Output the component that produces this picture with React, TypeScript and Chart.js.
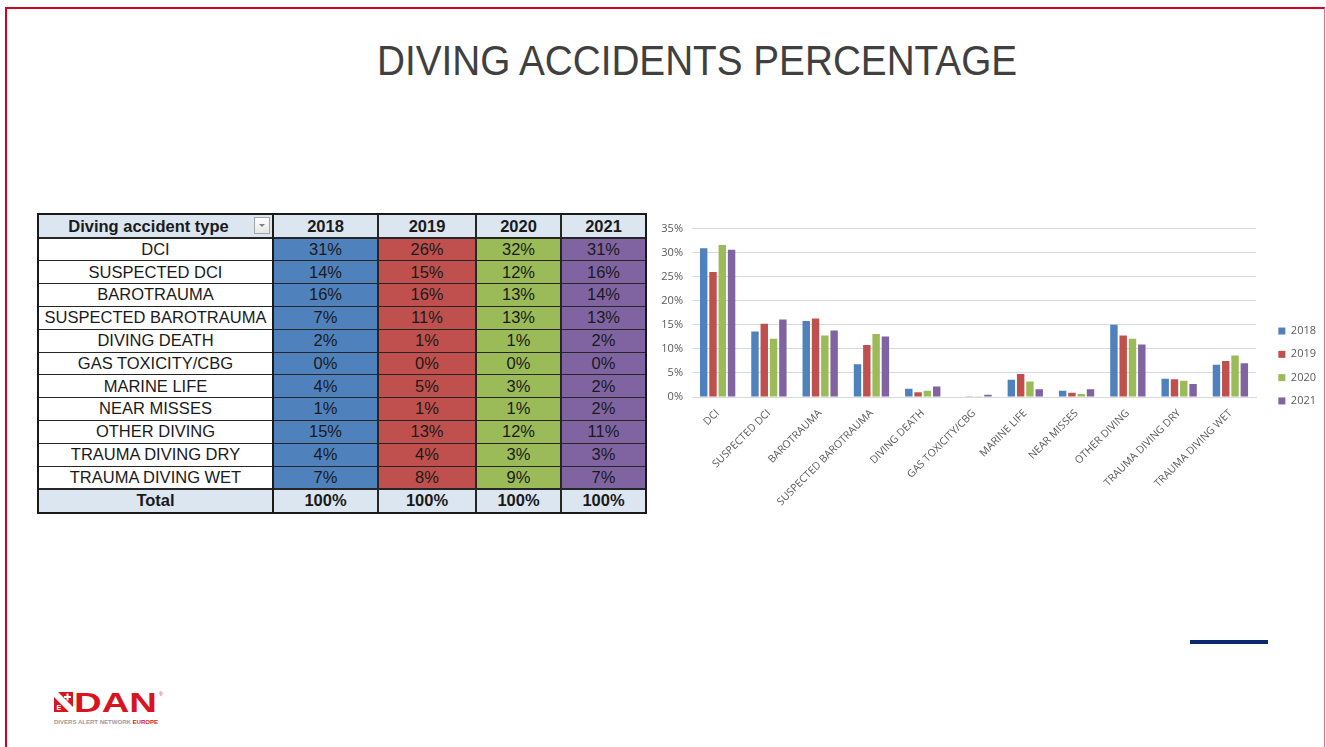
import React, { useEffect, useRef } from "react";
import { Chart, registerables } from "chart.js";

Chart.register(...registerables);

const categories = [
  "DCI",
  "SUSPECTED DCI",
  "BAROTRAUMA",
  "SUSPECTED BAROTRAUMA",
  "DIVING DEATH",
  "GAS TOXICITY/CBG",
  "MARINE LIFE",
  "NEAR MISSES",
  "OTHER DIVING",
  "TRAUMA DIVING DRY",
  "TRAUMA DIVING WET",
];
const years = ["2018", "2019", "2020", "2021"];

// chart values (percent)
const values2018 = [30.9, 13.6, 15.8, 6.8, 1.7, 0, 3.6, 1.3, 15.0, 3.8, 6.7];
const values2019 = [26.0, 15.2, 16.3, 10.8, 1.0, 0.05, 4.8, 0.9, 12.8, 3.7, 7.5];
const values2020 = [31.6, 12.1, 12.8, 13.1, 1.3, 0.15, 3.2, 0.6, 12.1, 3.4, 8.6];
const values2021 = [30.6, 16.1, 13.8, 12.6, 2.2, 0.45, 1.6, 1.6, 10.9, 2.7, 7.0];

// table values (rounded percent)
const table2018 = [31, 14, 16, 7, 2, 0, 4, 1, 15, 4, 7];
const table2019 = [26, 15, 16, 11, 1, 0, 5, 1, 13, 4, 8];
const table2020 = [32, 12, 13, 13, 1, 0, 3, 1, 12, 3, 9];
const table2021 = [31, 16, 14, 13, 2, 0, 2, 2, 11, 3, 7];
const totals = ["100%", "100%", "100%", "100%"];

const yMax = 35;
const yStep = 5;

const COLORS = ["#4F81BD", "#C0504D", "#9BBB59", "#8064A2"];
const CELL_COLORS = ["#4F81BD", "#C0504D", "#9BBB59", "#8064A2"];

const chartValues = [values2018, values2019, values2020, values2021];
const tableValues = [table2018, table2019, table2020, table2021];

function BarChart() {
  const ref = useRef<HTMLCanvasElement>(null);
  useEffect(() => {
    const chart = new Chart(ref.current!, {
      type: "bar",
      data: {
        labels: categories,
        datasets: years.map((y, i) => ({
          label: y,
          data: chartValues[i],
          backgroundColor: COLORS[i],
          yAxisID: "y",
          categoryPercentage: 0.725,
          barPercentage: 0.8,
        })),
      },
      options: {
        animation: false,
        responsive: false,
        maintainAspectRatio: false,
        layout: { padding: { top: 9, left: 0, right: 0, bottom: 5 } },
        plugins: {
          legend: {
            position: "right",
            labels: {
              boxWidth: 7,
              boxHeight: 7,
              padding: 12.3,
              color: "#595959",
              font: { family: "Open Sans", size: 11 },
            },
          },
          tooltip: { enabled: false },
        },
        scales: {
          x: {
            grid: { display: false },
            border: { color: "#D9D9D9" },
            ticks: {
              autoSkip: false,
              minRotation: 45,
              maxRotation: 45,
              color: "#595959",
              font: { family: "Open Sans", size: 10.5 },
              padding: 2,
            },
            afterFit: (s: any) => {
              s.height = 113;
            },
          },
          y: {
            min: 0,
            max: yMax,
            ticks: {
              stepSize: yStep,
              callback: (v: any) => v + "%",
              color: "#595959",
              font: { family: "Open Sans", size: 11 },
              padding: 9,
            },
            grid: { color: "#D9D9D9", drawTicks: false },
            border: { display: false },
            afterFit: (s: any) => {
              s.width = 44;
            },
          },
          yR: {
            type: "linear",
            position: "right",
            display: true,
            grid: { display: false },
            ticks: { display: false },
            border: { display: false },
            afterFit: (s: any) => {
              s.width = 10;
            },
          },
        },
      },
    } as any);
    return () => chart.destroy();
  }, []);
  return (
    <canvas
      ref={ref}
      width={678}
      height={302}
      style={{ position: "absolute", left: 648, top: 213, width: 678, height: 302 }}
    />
  );
}

const colX = [38, 273, 378, 476, 561, 646];
const headerTop = 214;
const headerH = 24;
const rowH = 22.8;
const totalH = 24;

function DataTable() {
  const cells: any[] = [];
  const lines: any[] = [];
  const font = '"Liberation Sans", Arial, sans-serif';
  const bodyTop = headerTop + headerH;
  const totalTop = bodyTop + rowH * categories.length;
  const bottom = totalTop + totalH;

  const cell = (key: string, x0: number, x1: number, y0: number, h: number, bg: string, text: string, bold = false, extra: any = {}) => (
    <div
      key={key}
      style={{
        position: "absolute",
        left: x0,
        top: y0,
        width: x1 - x0,
        height: h,
        background: bg,
        display: "flex",
        alignItems: "center",
        justifyContent: "center",
        fontFamily: font,
        fontSize: 16.5,
        fontWeight: bold ? 700 : 400,
        color: "#1a1a1a",
        whiteSpace: "nowrap",
        ...extra,
      }}
    >
      {text}
    </div>
  );

  // header
  cells.push(cell("h0", colX[0], colX[1], headerTop, headerH, "#DCE6F1", "Diving accident type", true, { paddingRight: 14, boxSizing: "border-box" }));
  years.forEach((y, i) => cells.push(cell("h" + (i + 1), colX[i + 1], colX[i + 2], headerTop, headerH, "#DCE6F1", y, true)));

  // body
  categories.forEach((c, r) => {
    const y0 = bodyTop + rowH * r;
    cells.push(cell("l" + r, colX[0], colX[1], y0, rowH, "#FFFFFF", c));
    years.forEach((_, i) =>
      cells.push(cell("c" + r + "_" + i, colX[i + 1], colX[i + 2], y0, rowH, CELL_COLORS[i], tableValues[i][r] + "%"))
    );
  });

  // total
  cells.push(cell("t0", colX[0], colX[1], totalTop, totalH, "#DCE6F1", "Total", true));
  totals.forEach((t, i) => cells.push(cell("t" + (i + 1), colX[i + 1], colX[i + 2], totalTop, totalH, "#DCE6F1", t, true)));

  // horizontal lines
  const hLine = (key: string, y: number, w: number, color = "#262626") =>
    lines.push(
      <div key={key} style={{ position: "absolute", left: colX[0], top: y - w / 2, width: colX[5] - colX[0], height: w, background: color }} />
    );
  hLine("hb", bodyTop, 1.5);
  for (let r = 1; r < categories.length; r++) hLine("hr" + r, bodyTop + rowH * r, 1);
  hLine("ht", totalTop, 2);

  // vertical lines
  const vLine = (key: string, x: number, w: number, color = "#262626") =>
    lines.push(
      <div key={key} style={{ position: "absolute", left: x - w / 2, top: headerTop, width: w, height: bottom - headerTop, background: color }} />
    );
  vLine("v1", colX[1], 2.5, "#1a1a1a");
  vLine("v2", colX[2], 1.2);
  vLine("v3", colX[3], 1.2);
  vLine("v4", colX[4], 1.2);

  // outer border
  lines.push(
    <div
      key="outer"
      style={{
        position: "absolute",
        left: colX[0] - 1,
        top: headerTop - 1,
        width: colX[5] - colX[0] + 2,
        height: bottom - headerTop + 2,
        border: "2px solid #1a1a1a",
        boxSizing: "border-box",
      }}
    />
  );

  // dropdown button
  lines.push(
    <div
      key="dd"
      style={{
        position: "absolute",
        left: 254,
        top: 217,
        width: 16,
        height: 17,
        boxSizing: "border-box",
        border: "1px solid #A6A6A6",
        background: "linear-gradient(#FFFFFF, #E6E6E6)",
      }}
    >
      <div
        style={{
          position: "absolute",
          left: 4,
          top: 6,
          width: 0,
          height: 0,
          borderLeft: "3px solid transparent",
          borderRight: "3px solid transparent",
          borderTop: "3px solid #7F7F7F",
        }}
      />
    </div>
  );

  return (
    <>
      {cells}
      {lines}
    </>
  );
}

function Logo() {
  return (
    <svg
      width={112}
      height={38}
      viewBox="0 0 112 38"
      style={{ position: "absolute", left: 54, top: 690 }}
    >
      <rect x={0} y={2} width={19} height={20} fill="#D7141F" />
      <polygon points="0,2 4,2 19,17 19,22 15,22 0,7" fill="#FFFFFF" />
      <rect x={12.5} y={3.5} width={2} height={7} fill="#FFFFFF" />
      <rect x={10} y={6} width={7} height={2} fill="#FFFFFF" />
      <text x={2.5} y={20} fontSize={7} fontWeight={700} fill="#FFFFFF" fontFamily="Liberation Sans, Arial, sans-serif">
        E
      </text>
      <text
        x={20}
        y={22}
        fontSize={28}
        fontWeight={700}
        fill="#D7141F"
        fontFamily="Liberation Sans, Arial, sans-serif"
        textLength={83}
        lengthAdjust="spacingAndGlyphs"
      >
        DAN
      </text>
      <text x={105} y={6} fontSize={5} fill="#D7141F" fontFamily="Liberation Sans, Arial, sans-serif">
        ®
      </text>
      <text
        x={0}
        y={34}
        fontSize={5.5}
        fontWeight={700}
        fontFamily="Liberation Sans, Arial, sans-serif"
        textLength={104}
        lengthAdjust="spacingAndGlyphs"
      >
        <tspan fill="#9A9A9A">DIVERS ALERT NETWORK </tspan>
        <tspan fill="#D7141F">EUROPE</tspan>
      </text>
    </svg>
  );
}

export default function App() {
  return (
    <div
      style={{
        position: "absolute",
        left: 0,
        top: 0,
        width: 1326,
        height: 747,
        background: "#FFFFFF",
        overflow: "hidden",
        fontFamily: '"Liberation Sans", Arial, sans-serif',
      }}
    >
      <div
        style={{
          position: "absolute",
          left: 5,
          top: 7,
          width: 1320,
          height: 760,
          boxSizing: "border-box",
          borderLeft: "2px solid #D4001F",
          borderTop: "2px solid #D4001F",
          borderRight: "1px solid #E57382",
        }}
      />
      <div
        style={{
          position: "absolute",
          left: 377,
          top: 39,
          fontSize: 43,
          lineHeight: 1,
          color: "#404040",
          whiteSpace: "nowrap",
          transform: "scaleX(0.9)",
          transformOrigin: "left top",
        }}
      >
        DIVING ACCIDENTS PERCENTAGE
      </div>
      <DataTable />
      <BarChart />
      <div style={{ position: "absolute", left: 1190, top: 640, width: 78, height: 4, background: "#0B2A6E" }} />
      <Logo />
    </div>
  );
}
